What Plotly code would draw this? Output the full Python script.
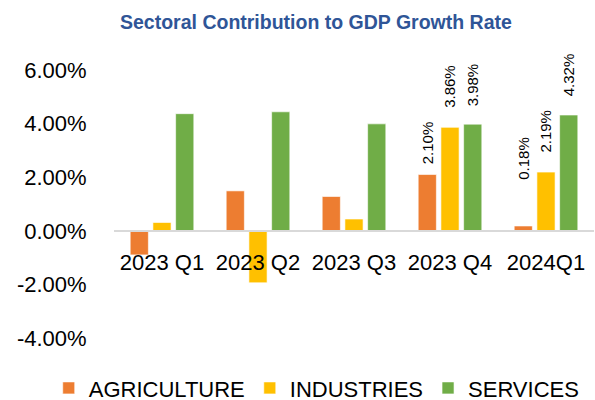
import plotly.graph_objects as go

categories = ["2023 Q1", "2023 Q2", "2023 Q3", "2023 Q4", "2024Q1"]
series_names = ["AGRICULTURE", "INDUSTRIES", "SERVICES"]
agriculture = [-0.90, 1.49, 1.28, 2.10, 0.18]
industries = [0.31, -1.94, 0.44, 3.86, 2.19]
services = [4.37, 4.44, 3.99, 3.98, 4.32]
# labels shown only for the last two quarters (as in the original)
agri_labels = ["", "", "", "2.10%", "0.18%"]
ind_labels = ["", "", "", "3.86%", "2.19%"]
serv_labels = ["", "", "", "3.98%", "4.32%"]
y_tick_values = [-4, -2, 0, 2, 4, 6]
y_tick_labels = ["-4.00%", "-2.00%", "0.00%", "2.00%", "4.00%", "6.00%"]

colors = ["#ED7D31", "#FFC000", "#70AD47"]
FONT = "Liberation Sans, Arial, sans-serif"
BARGAP = 0.29
# extra lift (px) of each visible label above its bar, as placed in the original
label_lift = [[0, 0, 0, 8, 44], [0, 0, 0, 17, 17], [0, 0, 0, 16, 17]]

fig = go.Figure()
all_vals = [agriculture, industries, services]
all_labels = [agri_labels, ind_labels, serv_labels]
for name, vals, col in zip(series_names, all_vals, colors):
    fig.add_trace(go.Bar(
        x=categories, y=vals, name=name,
        marker=dict(color=col, line=dict(color="rgba(255,255,255,0.6)", width=1)),
    ))

slot = (1 - BARGAP) / 3
annotations = []
for j, (vals, labs) in enumerate(zip(all_vals, all_labels)):
    for i, (v, t) in enumerate(zip(vals, labs)):
        if not t:
            continue
        annotations.append(dict(
            x=i + (j - 1) * slot, y=v, xref="x", yref="y", text=t,
            showarrow=False, textangle=-90, yanchor="bottom", xanchor="center",
            yshift=label_lift[j][i], font=dict(family=FONT, size=15, color="#000000"),
        ))

fig.update_layout(
    width=595, height=400,
    margin=dict(l=114, r=1, t=70, b=62, autoexpand=False),
    paper_bgcolor="white", plot_bgcolor="white",
    barmode="group", bargap=BARGAP, bargroupgap=0.2,
    font=dict(family=FONT, color="#000000"),
    title=dict(text="<b>Sectoral Contribution to GDP Growth Rate</b>",
               x=0.531, xref="container", xanchor="center",
               y=1 - 22 / 400, yref="container", yanchor="middle",
               font=dict(family=FONT, size=19.5, color="#2F5597")),
    legend=dict(orientation="h", x=-0.136, xanchor="left", y=-0.187, yanchor="middle",
                font=dict(family=FONT, size=22, color="#000000"),
                traceorder="normal", itemwidth=30),
    annotations=annotations,
    showlegend=True,
)
fig.update_yaxes(range=[-4, 6], tickvals=y_tick_values, ticktext=y_tick_labels,
                 showgrid=False, zeroline=False, showline=False,
                 ticks="outside", ticklen=22, tickcolor="rgba(0,0,0,0)",
                 tickfont=dict(family=FONT, size=22, color="#000000"))
fig.update_xaxes(type="category", anchor="free", position=0.4,
                 showline=True, linecolor="#D9D9D9", linewidth=1.5,
                 showgrid=False, zeroline=False,
                 ticks="outside", ticklen=12, tickcolor="rgba(0,0,0,0)",
                 tickfont=dict(family=FONT, size=22, color="#000000"))

fig.write_html("out.html")
